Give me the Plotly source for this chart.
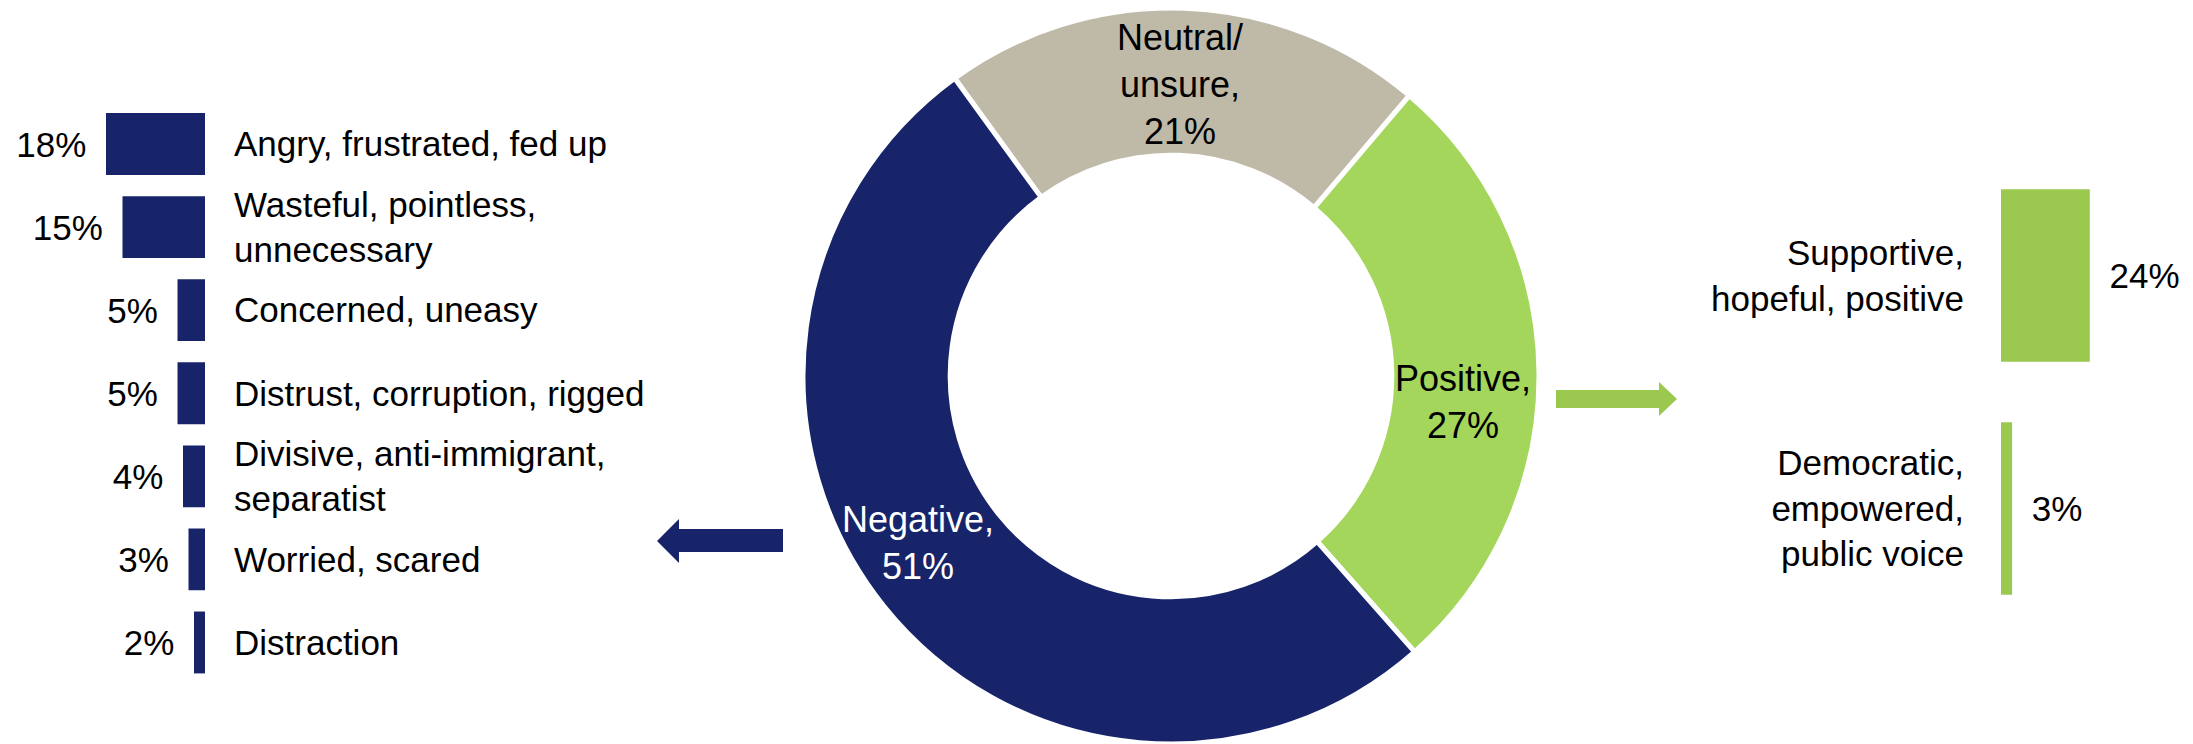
import plotly.graph_objects as go

# overall split (donut)
ring_labels = ["Neutral/<br>unsure,", "Positive,", "Negative,"]
ring_values = [21, 27, 51]

# breakdown of negative responses
neg_labels = [
    "Angry, frustrated, fed up",
    "Wasteful, pointless,<br>unnecessary",
    "Concerned, uneasy",
    "Distrust, corruption, rigged",
    "Divisive, anti-immigrant,<br>separatist",
    "Worried, scared",
    "Distraction",
]
neg_values = [18, 15, 5, 5, 4, 3, 2]

# breakdown of positive responses
pos_labels = [
    "Supportive,<br>hopeful, positive",
    "Democratic,<br>empowered,<br>public voice",
]
pos_values = [24, 3]

# the page body adds an 8px margin, so the figure is shrunk by that much
OFF = 8
W, H = 2193 - OFF, 744 - OFF
NAVY = "#17246A"
GREY = "#BFB9A8"
LIME = "#A4D65B"
GREEN = "#9BC84F"
FONT = "Arial, Liberation Sans, sans-serif"
FS = 35


def px(x, y):
    # screen pixel -> paper coords
    return (x - OFF) / W, 1 - (y - OFF) / H


def xd(a, b):
    return [px(a, 0)[0], px(b, 0)[0]]


def yd(top, bottom):
    return [px(0, bottom)[1], px(0, top)[1]]


def arrow_path(pts):
    parts = []
    for i, (x, y) in enumerate(pts):
        a, b = px(x, y)
        parts.append(("M" if i == 0 else "L") + f"{a:.5f},{b:.5f}")
    return " ".join(parts) + " Z"


fig = go.Figure()

fig.add_trace(go.Pie(
    labels=ring_labels,
    values=ring_values,
    hole=0.6,
    sort=False,
    direction="clockwise",
    rotation=-36,
    marker=dict(colors=[GREY, LIME, NAVY], line=dict(color="white", width=5)),
    textinfo="none",
    domain=dict(x=xd(1171 - 368, 1171 + 368), y=yd(8, 744)),
    hoverinfo="label+value",
))

fig.add_trace(go.Bar(
    x=neg_values,
    y=neg_labels,
    orientation="h",
    marker=dict(color=NAVY, line=dict(width=0)),
    width=0.745,
    texttemplate="%{x}%\u00a0\u2009",
    textposition="outside",
    textfont=dict(size=FS, color="black", family=FONT),
    cliponaxis=False,
    xaxis="x", yaxis="y",
))

fig.add_trace(go.Bar(
    x=pos_values,
    y=pos_labels,
    orientation="h",
    marker=dict(color=GREEN, line=dict(width=0)),
    width=0.74,
    texttemplate="\u00a0\u2009%{x}%",
    textposition="outside",
    textfont=dict(size=FS, color="black", family=FONT),
    cliponaxis=False,
    xaxis="x2", yaxis="y2",
))

# donut labels
label_pos = [(1180, 84, "black"), (1463, 402, "black"), (918, 543, "white")]
annotations = []
for lab, val, (lx, ly, col) in zip(ring_labels, ring_values, label_pos):
    ax_, ay_ = px(lx, ly)
    annotations.append(dict(
        x=ax_, y=ay_, xref="paper", yref="paper",
        text=f"{lab}<br>{val}%", showarrow=False, align="center",
        xanchor="center", yanchor="middle",
        font=dict(size=36, color=col, family=FONT),
    ))

shapes = [
    dict(type="path", xref="paper", yref="paper", line=dict(width=0), fillcolor=NAVY,
         path=arrow_path([(657, 541), (679, 519), (679, 529), (783, 529),
                          (783, 552), (679, 552), (679, 563)])),
    dict(type="path", xref="paper", yref="paper", line=dict(width=0), fillcolor=GREEN,
         path=arrow_path([(1556, 390), (1659, 390), (1659, 382), (1677, 399),
                          (1659, 416), (1659, 408), (1556, 408)])),
]

fig.update_layout(
    width=W, height=H,
    margin=dict(l=0, r=0, t=0, b=0),
    paper_bgcolor="white", plot_bgcolor="white",
    showlegend=False,
    font=dict(family=FONT, size=FS, color="black"),
    annotations=annotations,
    shapes=shapes,
    xaxis=dict(domain=xd(OFF, 205), range=[(205 - OFF) / 5.5, 0], visible=False),
    yaxis=dict(domain=yd(102.5, 684), range=[6.5, -0.5],
               side="right", anchor="x", showgrid=False, zeroline=False,
               showline=False, ticks="", ticklabelstandoff=28, automargin=False,
               tickfont=dict(size=FS, color="black", family=FONT)),
    xaxis2=dict(domain=xd(2001, 2193), range=[0, 192 / 3.7], visible=False, anchor="y2"),
    yaxis2=dict(domain=yd(159, 625), range=[1.5, -0.5],
                side="left", anchor="x2", showgrid=False, zeroline=False,
                showline=False, ticks="", ticklabelstandoff=36, automargin=False,
                tickfont=dict(size=FS, color="black", family=FONT)),
)

fig.write_html("out.html")
